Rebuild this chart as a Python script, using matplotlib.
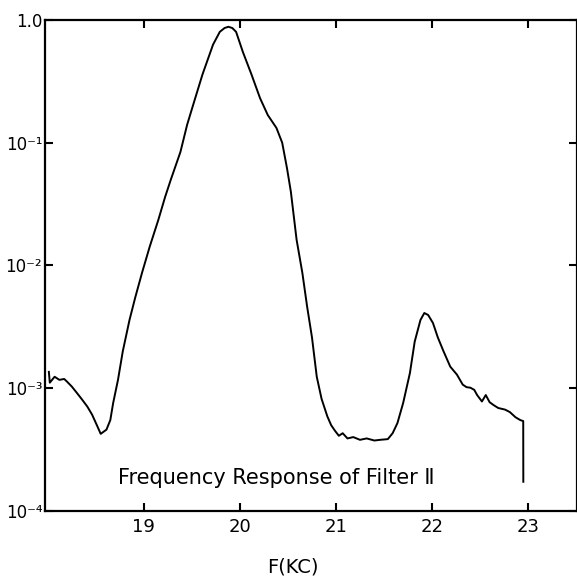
import numpy as np
import matplotlib.pyplot as plt
from matplotlib.ticker import FixedLocator, NullLocator

# frequency (kc) and response
freq = [18.01, 18.02, 18.07, 18.12, 18.17, 18.20, 18.25, 18.30, 18.35, 18.41,
        18.46, 18.51, 18.55, 18.61, 18.65, 18.68, 18.73, 18.78, 18.85, 18.91,
        18.98, 19.06, 19.15, 19.22, 19.28, 19.38, 19.45, 19.51, 19.61, 19.72,
        19.79, 19.84, 19.88, 19.92, 19.96, 20.03, 20.12, 20.21, 20.29, 20.38, 20.44, 20.49,
        20.53, 20.59, 20.65, 20.70, 20.75, 20.80, 20.85, 20.91, 20.95, 20.99,
        21.03, 21.07, 21.12, 21.18, 21.25, 21.32, 21.40, 21.46, 21.54, 21.59,
        21.64, 21.70, 21.77, 21.82, 21.88, 21.92, 21.96, 22.01, 22.06, 22.12,
        22.19, 22.26, 22.32, 22.36, 22.40, 22.44, 22.47, 22.52, 22.56, 22.60,
        22.64, 22.69, 22.76, 22.81, 22.87, 22.92, 22.95, 22.951]
resp = [1.36e-3, 1.11e-3, 1.24e-3, 1.17e-3, 1.19e-3, 1.13e-3, 1.03e-3, 9.2e-4, 8.2e-4, 7.1e-4,
        6.1e-4, 5.0e-4, 4.25e-4, 4.6e-4, 5.5e-4, 7.6e-4, 1.17e-3, 2.0e-3, 3.6e-3, 5.5e-3,
        8.7e-3, 1.42e-2, 2.35e-2, 3.6e-2, 5.0e-2, 8.4e-2, 0.14, 0.20, 0.36, 0.63,
        0.80, 0.86, 0.88, 0.86, 0.80, 0.55, 0.36, 0.23, 0.168, 0.132, 0.10, 0.062,
        0.040, 0.0162, 8.7e-3, 4.6e-3, 2.6e-3, 1.24e-3, 8.2e-4, 5.9e-4, 5.0e-4, 4.5e-4,
        4.1e-4, 4.3e-4, 3.9e-4, 4.0e-4, 3.8e-4, 3.9e-4, 3.75e-4, 3.8e-4, 3.85e-4, 4.3e-4,
        5.2e-4, 7.6e-4, 1.33e-3, 2.4e-3, 3.6e-3, 4.1e-3, 3.95e-3, 3.4e-3, 2.6e-3, 2.0e-3,
        1.5e-3, 1.29e-3, 1.07e-3, 1.02e-3, 1.01e-3, 9.7e-4, 8.8e-4, 7.8e-4, 8.8e-4, 7.7e-4,
        7.3e-4, 6.9e-4, 6.7e-4, 6.4e-4, 5.8e-4, 5.5e-4, 5.4e-4, 1.73e-4]

xticks = [19, 20, 21, 22, 23]
xlabels = ['19', '20', '21', '22', '23']
yticks = [1e-4, 1e-3, 1e-2, 1e-1, 1.0]
ylabels = ['10\u207b\u2074', '10\u207b\u00b3', '10\u207b\u00b2', '10\u207b\u00b9', '1.0']

plt.rcParams['font.family'] = ['DejaVu Sans']

fig = plt.figure(figsize=(5.77, 5.77), dpi=100)
ax = fig.add_axes([0.078, 0.1144, 0.922, 0.851])

ax.plot(freq, resp, color='black', lw=1.4)

ax.set_yscale('log')
ax.set_xlim(17.97, 23.51)
ax.set_ylim(1e-4, 1.0)

ax.xaxis.set_major_locator(FixedLocator(xticks))
ax.set_xticklabels(xlabels)
ax.yaxis.set_major_locator(FixedLocator(yticks))
ax.set_yticklabels(ylabels)
ax.yaxis.set_minor_locator(NullLocator())
ax.xaxis.set_minor_locator(NullLocator())

ax.tick_params(direction='in', length=6, width=1.5, top=True, right=True)
ax.tick_params(axis='x', labelsize=13, pad=5)
ax.tick_params(axis='y', labelsize=12, pad=2)
for s in ax.spines.values():
    s.set_linewidth(1.6)

ax.text(18.73, 1.86e-4, 'Frequency Response of Filter Ⅱ', fontsize=15,
        ha='left', va='center')
fig.text(293 / 577, 1 - 567 / 577, 'F(KC)', fontsize=14, ha='center', va='center')

fig.savefig('out.png', dpi=100)
